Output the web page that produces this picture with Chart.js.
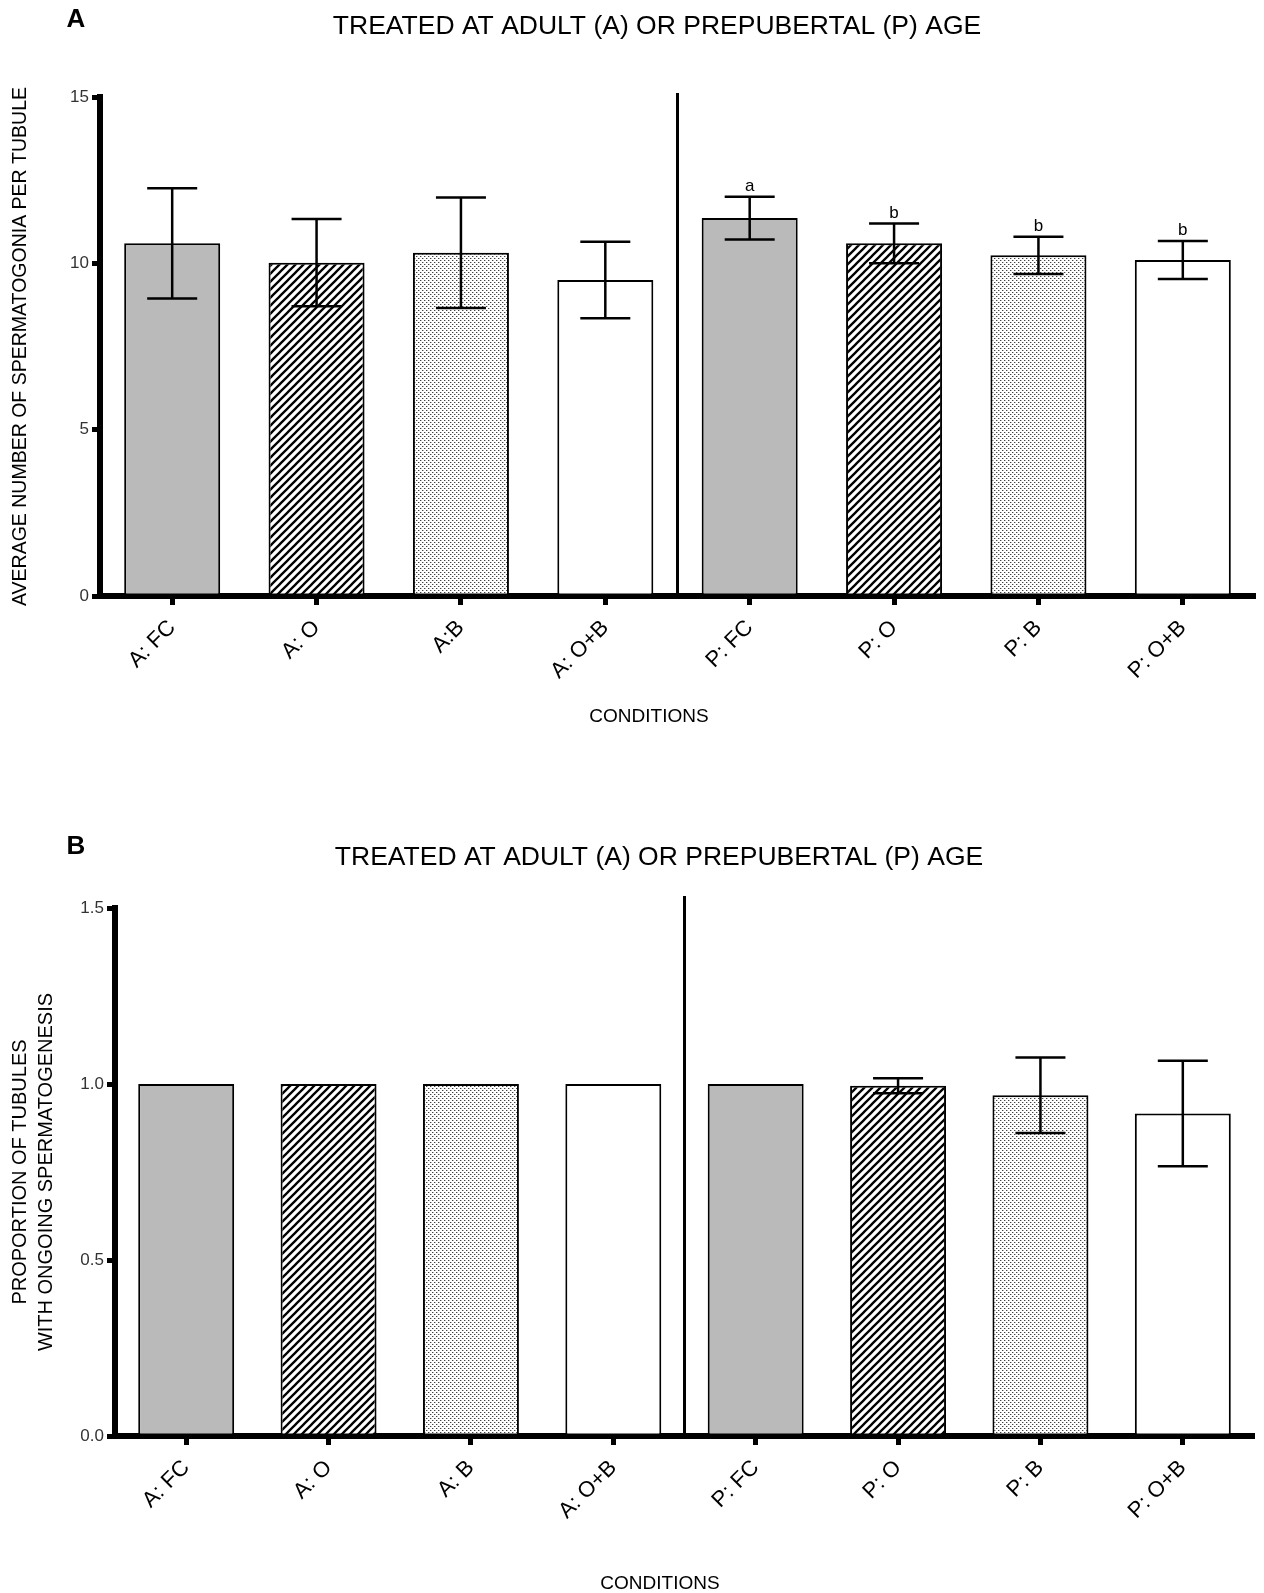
<!DOCTYPE html>
<html>
<head>
<meta charset="utf-8">
<script src="https://cdn.jsdelivr.net/npm/chart.js@4.4.0/dist/chart.umd.min.js"></script>
<style>
  html, body { margin: 0; padding: 0; background: #fff; }
  canvas { display: block; }
</style>
</head>
<body>
<canvas id="chartA" width="1264" height="760"></canvas>
<canvas id="chartB" width="1264" height="833"></canvas>
<script>
// Panel A: spermatogonia per tubule
const labelsA = ['A: FC', 'A: O', 'A:B', 'A: O+B', 'P: FC', 'P: O', 'P: B', 'P: O+B'];
const meansA = [10.6, 10.02, 10.32, 9.5, 11.36, 10.6, 10.24, 10.1];
const errA = [1.66, 1.31, 1.66, 1.15, 0.64, 0.6, 0.56, 0.57];
const lettersA = ['', '', '', '', 'a', 'b', 'b', 'b'];
const yTicksA = ['0', '5', '10', '15'];

// Panel B: proportion of tubules with ongoing spermatogenesis
const labelsB = ['A: FC', 'A: O', 'A: B', 'A: O+B', 'P: FC', 'P: O', 'P: B', 'P: O+B'];
const meansB = [1.0, 1.0, 1.0, 1.0, 1.0, 0.995, 0.968, 0.916];
const errB = [0, 0, 0, 0, 0, 0.021, 0.107, 0.15];
const lettersB = ['', '', '', '', '', '', '', ''];
const yTicksB = ['0.0', '0.5', '1.0', '1.5'];

Chart.defaults.font.family = "'Liberation Sans', Arial, sans-serif";
Chart.defaults.color = '#000';

/** Relleno rayado diagonal */
function hatchPattern() {
    const c = document.createElement('canvas');
    c.width = 8; c.height = 8;
    const g = c.getContext('2d');
    g.fillStyle = '#fff';
    g.fillRect(0, 0, 8, 8);
    g.strokeStyle = '#000';
    g.lineWidth = 2.3;
    g.beginPath();
    g.moveTo(-2, 10); g.lineTo(10, -2);
    g.moveTo(-2, 2); g.lineTo(2, -2);
    g.moveTo(6, 10); g.lineTo(10, 6);
    g.stroke();
    return g.createPattern(c, 'repeat');
}

/** Relleno punteado */
function dotPattern() {
    const c = document.createElement('canvas');
    c.width = 4; c.height = 4;
    const g = c.getContext('2d');
    g.fillStyle = '#fff';
    g.fillRect(0, 0, 4, 4);
    g.fillStyle = '#444';
    g.fillRect(0, 0, 1, 1);
    g.fillRect(2, 2, 1, 1);
    g.fillStyle = '#bbb';
    g.fillRect(1, 0, 1, 1);
    g.fillRect(3, 2, 1, 1);
    return g.createPattern(c, 'repeat');
}

function groupFills(n) {
    const fills = ['#bababa', hatchPattern(), dotPattern(), '#ffffff'];
    return Array.from({length: n}, (_, i) => fills[i % 4]);
}

// barras de error, línea divisoria y textos sueltos
const extras = {
    id: 'extras',
    afterDraw(chart, args, opts) {
        const ctx = chart.ctx;
        const xs = chart.scales.x, ys = chart.scales.y;
        const area = chart.chartArea;
        const values = chart.data.datasets[0].data;
        ctx.save();

        // divisor entre grupos A y P
        const xd = (xs.getPixelForValue(3) + xs.getPixelForValue(4)) / 2;
        ctx.strokeStyle = '#000';
        ctx.lineWidth = 3;
        ctx.beginPath();
        ctx.moveTo(xd, area.top - opts.dividerRise);
        ctx.lineTo(xd, area.bottom);
        ctx.stroke();

        // barras de error
        ctx.lineWidth = 2.5;
        ctx.font = '17px ' + Chart.defaults.font.family;
        ctx.fillStyle = '#000';
        ctx.textAlign = 'center';
        ctx.textBaseline = 'bottom';
        chart.getDatasetMeta(0).data.forEach((bar, i) => {
            const e = opts.errors[i];
            const v = values[i];
            const top = ys.getPixelForValue(v + e);
            if (e) {
                const bot = ys.getPixelForValue(v - e);
                const half = opts.capWidth / 2;
                ctx.beginPath();
                ctx.moveTo(bar.x, top); ctx.lineTo(bar.x, bot);
                ctx.moveTo(bar.x - half, top); ctx.lineTo(bar.x + half, top);
                ctx.moveTo(bar.x - half, bot); ctx.lineTo(bar.x + half, bot);
                ctx.stroke();
            }
            if (opts.letters[i]) ctx.fillText(opts.letters[i], bar.x, top - 2);
        });

        // textos: letra del panel, título, título del eje x
        opts.texts.forEach(t => {
            ctx.font = t.font;
            ctx.textAlign = 'center';
            ctx.textBaseline = 'middle';
            ctx.fillText(t.text, t.x, t.y);
        });
        ctx.restore();
    }
};

function buildChart(canvasId, cfg) {
    const ctx = document.getElementById(canvasId).getContext('2d');
    return new Chart(ctx, {
        type: 'bar',
        data: {
            labels: cfg.labels,
            datasets: [{
                data: cfg.means,
                backgroundColor: groupFills(cfg.labels.length),
                borderColor: '#000',
                borderWidth: 2,
                borderSkipped: false,
                barPercentage: cfg.barPct,
                categoryPercentage: 1
            }]
        },
        options: {
            responsive: false,
            animation: false,
            layout: { padding: cfg.padding },
            plugins: {
                legend: { display: false },
                tooltip: { enabled: false },
                extras: {
                    errors: cfg.errors,
                    letters: cfg.letters,
                    capWidth: 50,
                    dividerRise: cfg.dividerRise,
                    texts: cfg.texts
                }
            },
            scales: {
                x: {
                    z: 1,
                    afterFit: s => { s.height = cfg.xHeight; },
                    border: { display: true, width: 6, color: '#000' },
                    grid: {
                        offset: false, drawOnChartArea: false, drawTicks: true,
                        tickLength: 9, tickWidth: 5, tickColor: '#000'
                    },
                    ticks: {
                        autoSkip: false, minRotation: 45, maxRotation: 45,
                        padding: 10, color: '#000',
                        font: { size: 22 }
                    }
                },
                y: {
                    z: 1,
                    min: 0,
                    max: cfg.yMax,
                    afterFit: s => { s.width = cfg.yWidth; },
                    border: { display: true, width: 6, color: '#000' },
                    grid: {
                        drawOnChartArea: false, drawTicks: true,
                        tickLength: 8, tickWidth: 5, tickColor: '#000'
                    },
                    ticks: {
                        stepSize: cfg.yMax / 3,
                        padding: 3,
                        color: '#333',
                        font: { size: 17 },
                        callback: (v, i) => cfg.yTicks[i]
                    },
                    title: {
                        display: true,
                        text: cfg.yTitle,
                        color: '#000',
                        font: { size: cfg.yTitleSize, lineHeight: cfg.yTitleLine },
                        padding: { top: cfg.yTitlePad, bottom: 0 }
                    }
                }
            }
        },
        plugins: [extras]
    });
}

const titleText = 'TREATED AT ADULT (A) OR PREPUBERTAL (P) AGE';
const fam = Chart.defaults.font.family;

buildChart('chartA', {
    labels: labelsA, means: meansA, errors: errA, letters: lettersA, yTicks: yTicksA,
    yMax: 15, barPct: 0.665,
    padding: { left: 0, top: 97, right: 9, bottom: 0 },
    yWidth: 100, xHeight: 164, dividerRise: 4,
    yTitle: 'AVERAGE NUMBER OF SPERMATOGONIA PER TUBULE',
    yTitleSize: 19.5, yTitleLine: 1.2, yTitlePad: 9,
    texts: [
        { text: 'A', x: 76, y: 20, font: 'bold 26px ' + fam },
        { text: titleText, x: 657, y: 27, font: '26.5px ' + fam },
        { text: 'CONDITIONS', x: 649, y: 717, font: '19px ' + fam }
    ]
});

buildChart('chartB', {
    labels: labelsB, means: meansB, errors: errB, letters: lettersB, yTicks: yTicksB,
    yMax: 1.5, barPct: 0.674,
    padding: { left: 0, top: 148, right: 10, bottom: 0 },
    yWidth: 115, xHeight: 157, dividerRise: 12,
    yTitle: ['PROPORTION OF TUBULES', 'WITH ONGOING SPERMATOGENESIS'],
    yTitleSize: 20, yTitleLine: 1.3, yTitlePad: 7,
    texts: [
        { text: 'B', x: 76, y: 87, font: 'bold 26px ' + fam },
        { text: titleText, x: 659, y: 98, font: '26.5px ' + fam },
        { text: 'CONDITIONS', x: 660, y: 824, font: '19px ' + fam }
    ]
});
</script>
</body>
</html>
